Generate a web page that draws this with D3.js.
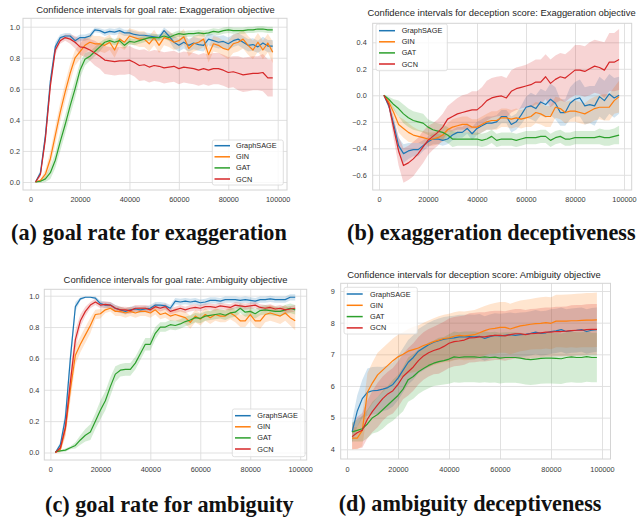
<!DOCTYPE html>
<html><head><meta charset="utf-8">
<script src="https://cdn.jsdelivr.net/npm/d3@7"></script>
<style>
body{margin:0;background:#fff}
svg{display:block}
</style>
</head><body>
<svg id="chart" width="638" height="519"></svg>
<script>
// ---------------- DATA ----------------
const steps = [
 2000,4000,6000,8000,10000,12000,14000,
 16000,18000,20000,22000,24000,26000,28000,
 30000,32000,34000,36000,38000,40000,42000,
 44000,46000,48000,50000,52000,54000,56000,
 58000,60000,62000,64000,66000,68000,70000,
 72000,74000,76000,78000,80000,82000,84000,
 86000,88000,90000,92000,94000,96000,98000];
const seriesNames = ["GraphSAGE","GIN","GAT","GCN"];
const xTicks = [0,20000,40000,60000,80000,100000];

// (a) goal rate, exaggeration
const aSage = [
 0.00,0.06,0.30,0.65,0.87,0.93,0.94,
 0.94,0.91,0.93,0.93,0.94,0.98,0.975,
 0.96,0.97,0.965,0.975,0.96,0.96,0.95,
 0.945,0.945,0.94,0.935,0.93,0.975,0.94,
 0.90,0.88,0.90,0.88,0.895,0.885,0.88,
 0.92,0.91,0.90,0.905,0.89,0.91,0.92,
 0.90,0.88,0.885,0.87,0.895,0.875,0.875];
const aSageErr = [
 0.005,0.02,0.04,0.04,0.03,0.02,0.02,
 0.02,0.02,0.02,0.02,0.02,0.015,0.015,
 0.02,0.02,0.02,0.02,0.02,0.02,0.02,
 0.02,0.02,0.02,0.02,0.02,0.02,0.03,
 0.04,0.04,0.04,0.04,0.04,0.04,0.04,
 0.04,0.04,0.04,0.04,0.04,0.04,0.04,
 0.04,0.04,0.04,0.04,0.04,0.04,0.04];
const aGin = [
 0.00,0.01,0.05,0.15,0.30,0.45,0.58,
 0.70,0.80,0.84,0.88,0.90,0.89,0.89,
 0.88,0.90,0.85,0.92,0.90,0.94,0.93,
 0.92,0.92,0.89,0.93,0.88,0.93,0.92,
 0.90,0.91,0.935,0.86,0.89,0.90,0.92,
 0.82,0.89,0.88,0.86,0.85,0.89,0.90,
 0.92,0.88,0.85,0.90,0.85,0.895,0.835];
const aGinErr = [
 0.005,0.01,0.03,0.05,0.06,0.06,0.06,
 0.06,0.05,0.05,0.05,0.05,0.05,0.05,
 0.05,0.05,0.05,0.05,0.05,0.05,0.05,
 0.05,0.05,0.05,0.05,0.05,0.05,0.05,
 0.05,0.05,0.05,0.05,0.05,0.05,0.05,
 0.05,0.05,0.05,0.05,0.06,0.06,0.06,
 0.06,0.06,0.06,0.06,0.06,0.06,0.07];
const aGat = [
 0.00,0.005,0.02,0.06,0.14,0.26,0.37,
 0.49,0.60,0.72,0.79,0.81,0.84,0.87,
 0.90,0.91,0.90,0.91,0.88,0.905,0.90,
 0.91,0.92,0.93,0.93,0.93,0.94,0.93,
 0.945,0.955,0.95,0.955,0.955,0.96,0.955,
 0.96,0.97,0.965,0.975,0.98,0.975,0.975,
 0.975,0.98,0.98,0.985,0.985,0.98,0.98];
const aGatErr = [
 0.005,0.01,0.02,0.04,0.05,0.06,0.06,
 0.06,0.06,0.05,0.04,0.03,0.03,0.03,
 0.02,0.02,0.02,0.02,0.02,0.02,0.02,
 0.02,0.02,0.02,0.02,0.02,0.02,0.02,
 0.02,0.02,0.02,0.02,0.02,0.02,0.02,
 0.02,0.02,0.02,0.02,0.02,0.02,0.02,
 0.02,0.02,0.02,0.02,0.02,0.02,0.02];
const aGcn = [
 0.00,0.05,0.28,0.62,0.85,0.91,0.93,
 0.92,0.90,0.87,0.865,0.85,0.83,0.81,
 0.785,0.78,0.775,0.78,0.78,0.785,0.77,
 0.75,0.755,0.74,0.75,0.745,0.735,0.74,
 0.745,0.73,0.74,0.735,0.73,0.72,0.73,
 0.72,0.73,0.73,0.72,0.705,0.71,0.70,
 0.69,0.695,0.70,0.70,0.705,0.67,0.67];
const aGcnErr = [
 0.005,0.02,0.04,0.04,0.03,0.02,0.02,
 0.03,0.04,0.05,0.06,0.07,0.08,0.08,
 0.09,0.09,0.09,0.09,0.09,0.09,0.09,
 0.10,0.10,0.10,0.10,0.10,0.10,0.10,
 0.10,0.10,0.10,0.10,0.10,0.10,0.10,
 0.10,0.10,0.10,0.10,0.10,0.10,0.11,
 0.11,0.11,0.11,0.11,0.12,0.12,0.12];

// (b) deception score, exaggeration
const bSage = [
 0,-0.08,-0.22,-0.38,-0.44,-0.42,-0.41,
 -0.41,-0.38,-0.35,-0.33,-0.33,-0.34,-0.33,
 -0.30,-0.28,-0.28,-0.25,-0.29,-0.25,-0.23,
 -0.21,-0.21,-0.20,-0.16,-0.16,-0.22,-0.20,
 -0.15,-0.09,-0.08,-0.10,-0.05,-0.07,-0.03,
 -0.06,-0.13,-0.13,-0.06,-0.03,-0.02,-0.08,
 -0.07,-0.08,-0.01,-0.04,0.01,-0.02,0.00];
const bSageErr = [
 0.005,0.02,0.05,0.06,0.07,0.06,0.05,
 0.05,0.04,0.04,0.04,0.04,0.04,0.04,
 0.04,0.04,0.04,0.04,0.05,0.05,0.05,
 0.05,0.05,0.05,0.05,0.05,0.06,0.06,
 0.07,0.08,0.10,0.10,0.10,0.10,0.12,
 0.12,0.10,0.10,0.12,0.13,0.14,0.14,
 0.14,0.15,0.15,0.15,0.15,0.15,0.14];
const bGin = [
 0,-0.05,-0.13,-0.22,-0.25,-0.28,-0.30,
 -0.31,-0.32,-0.33,-0.33,-0.32,-0.30,-0.26,
 -0.24,-0.23,-0.22,-0.22,-0.24,-0.24,-0.22,
 -0.20,-0.19,-0.19,-0.17,-0.17,-0.18,-0.17,
 -0.18,-0.17,-0.16,-0.13,-0.14,-0.16,-0.16,
 -0.09,-0.10,-0.13,-0.12,-0.12,-0.13,-0.14,
 -0.12,-0.10,-0.09,-0.09,-0.09,-0.04,-0.01];
const bGinErr = [
 0.005,0.02,0.04,0.06,0.07,0.07,0.06,
 0.05,0.05,0.05,0.05,0.05,0.05,0.05,
 0.06,0.06,0.06,0.06,0.06,0.06,0.06,
 0.06,0.07,0.07,0.07,0.07,0.07,0.07,
 0.07,0.07,0.08,0.08,0.08,0.08,0.08,
 0.08,0.08,0.08,0.08,0.08,0.08,0.08,
 0.09,0.09,0.09,0.10,0.10,0.10,0.12];
const bGat = [
 0,-0.03,-0.07,-0.10,-0.14,-0.17,-0.19,
 -0.20,-0.21,-0.24,-0.26,-0.27,-0.28,-0.30,
 -0.33,-0.33,-0.33,-0.33,-0.33,-0.33,-0.34,
 -0.33,-0.31,-0.34,-0.33,-0.33,-0.33,-0.34,
 -0.33,-0.32,-0.32,-0.32,-0.31,-0.31,-0.34,
 -0.32,-0.31,-0.33,-0.33,-0.32,-0.32,-0.32,
 -0.32,-0.32,-0.31,-0.32,-0.32,-0.31,-0.30];
const bGatErr = [
 0.005,0.02,0.04,0.06,0.07,0.07,0.07,
 0.07,0.07,0.06,0.06,0.06,0.06,0.06,
 0.06,0.05,0.05,0.05,0.05,0.05,0.05,
 0.05,0.05,0.05,0.05,0.05,0.05,0.05,
 0.05,0.05,0.05,0.05,0.05,0.05,0.05,
 0.05,0.05,0.05,0.05,0.05,0.05,0.05,
 0.05,0.05,0.06,0.06,0.06,0.06,0.07];
const bGcn = [
 0,-0.07,-0.25,-0.42,-0.53,-0.51,-0.48,
 -0.44,-0.39,-0.34,-0.31,-0.28,-0.24,-0.18,
 -0.16,-0.14,-0.13,-0.12,-0.11,-0.11,-0.08,
 -0.04,-0.02,-0.01,-0.005,-0.02,0.03,0.05,
 0.06,0.07,0.08,0.10,0.10,0.14,0.09,
 0.12,0.14,0.13,0.16,0.19,0.19,0.18,
 0.20,0.22,0.21,0.19,0.25,0.25,0.27];
const bGcnErr = [
 0.005,0.03,0.08,0.11,0.13,0.13,0.13,
 0.12,0.12,0.11,0.10,0.10,0.10,0.10,
 0.11,0.12,0.13,0.13,0.14,0.14,0.14,
 0.15,0.15,0.15,0.15,0.15,0.16,0.16,
 0.16,0.16,0.17,0.17,0.17,0.17,0.18,
 0.18,0.18,0.18,0.18,0.19,0.19,0.19,
 0.20,0.20,0.20,0.21,0.22,0.22,0.23];

// (c) goal rate, ambiguity
const cSage = [
 0.00,0.05,0.22,0.60,0.93,0.98,0.99,
 0.99,0.985,0.95,0.94,0.94,0.92,0.91,
 0.90,0.91,0.915,0.91,0.915,0.92,0.94,
 0.94,0.935,0.92,0.965,0.96,0.965,0.96,
 0.965,0.955,0.96,0.97,0.97,0.965,0.975,
 0.975,0.975,0.97,0.975,0.97,0.965,0.975,
 0.975,0.98,0.975,0.975,0.975,0.99,0.99];
const cSageErr = [
 0.005,0.02,0.05,0.06,0.03,0.01,0.005,
 0.005,0.01,0.02,0.02,0.02,0.02,0.02,
 0.02,0.02,0.02,0.02,0.02,0.02,0.02,
 0.02,0.02,0.02,0.02,0.02,0.02,0.02,
 0.02,0.02,0.02,0.02,0.02,0.02,0.02,
 0.02,0.02,0.02,0.02,0.02,0.02,0.02,
 0.02,0.02,0.02,0.02,0.02,0.02,0.02];
const cGin = [
 0.00,0.02,0.15,0.40,0.62,0.69,0.75,
 0.81,0.88,0.885,0.91,0.92,0.90,0.90,
 0.89,0.90,0.89,0.90,0.90,0.89,0.91,
 0.88,0.89,0.87,0.88,0.87,0.86,0.83,
 0.87,0.85,0.88,0.86,0.88,0.87,0.87,
 0.89,0.87,0.84,0.84,0.88,0.84,0.84,
 0.88,0.89,0.88,0.87,0.89,0.86,0.84];
const cGinErr = [
 0.005,0.02,0.05,0.07,0.06,0.05,0.05,
 0.05,0.03,0.03,0.02,0.02,0.03,0.03,
 0.03,0.03,0.03,0.03,0.03,0.03,0.03,
 0.03,0.03,0.03,0.04,0.04,0.04,0.04,
 0.04,0.04,0.04,0.04,0.04,0.04,0.04,
 0.04,0.04,0.04,0.04,0.04,0.04,0.05,
 0.05,0.05,0.05,0.05,0.05,0.05,0.06];
const cGat = [
 0.005,0.01,0.015,0.03,0.045,0.08,0.11,
 0.13,0.20,0.27,0.33,0.42,0.50,0.525,
 0.53,0.53,0.57,0.63,0.69,0.69,0.76,
 0.80,0.80,0.815,0.81,0.82,0.835,0.845,
 0.86,0.855,0.87,0.875,0.88,0.885,0.875,
 0.89,0.895,0.92,0.895,0.90,0.885,0.905,
 0.91,0.905,0.90,0.90,0.91,0.92,0.91];
const cGatErr = [
 0.005,0.005,0.01,0.01,0.02,0.03,0.04,
 0.05,0.05,0.06,0.06,0.06,0.05,0.04,
 0.04,0.04,0.04,0.04,0.04,0.04,0.04,
 0.03,0.03,0.03,0.03,0.03,0.03,0.03,
 0.03,0.03,0.03,0.03,0.03,0.03,0.03,
 0.03,0.03,0.03,0.03,0.03,0.03,0.03,
 0.03,0.03,0.03,0.03,0.03,0.03,0.03];
const cGcn = [
 0.00,0.03,0.16,0.45,0.72,0.84,0.90,
 0.94,0.96,0.94,0.945,0.94,0.92,0.91,
 0.91,0.905,0.92,0.92,0.92,0.91,0.93,
 0.92,0.93,0.90,0.91,0.92,0.91,0.92,
 0.925,0.92,0.93,0.93,0.925,0.935,0.93,
 0.925,0.94,0.935,0.93,0.935,0.94,0.925,
 0.92,0.925,0.915,0.92,0.91,0.915,0.92];
const cGcnErr = [
 0.005,0.02,0.05,0.07,0.06,0.04,0.03,
 0.02,0.02,0.02,0.02,0.02,0.02,0.02,
 0.02,0.02,0.02,0.02,0.02,0.02,0.02,
 0.02,0.02,0.02,0.02,0.02,0.02,0.02,
 0.02,0.02,0.02,0.02,0.02,0.02,0.02,
 0.02,0.02,0.02,0.02,0.02,0.02,0.02,
 0.02,0.02,0.02,0.02,0.02,0.02,0.02];

// (d) deception score, ambiguity
const dSage = [
 4.55,5.20,5.60,5.80,5.85,5.86,5.90,
 5.95,6.05,6.25,6.50,6.75,6.90,7.10,
 7.20,7.30,7.38,7.43,7.48,7.50,7.52,
 7.55,7.55,7.56,7.55,7.57,7.50,7.56,
 7.60,7.58,7.60,7.62,7.60,7.62,7.63,
 7.66,7.70,7.66,7.68,7.72,7.74,7.78,
 7.72,7.75,7.76,7.78,7.72,7.76,7.78];
const dSageErr = [
 0.35,0.50,0.60,0.75,0.75,0.75,0.70,
 0.70,0.70,0.70,0.70,0.70,0.70,0.70,
 0.70,0.70,0.70,0.70,0.70,0.70,0.70,
 0.70,0.70,0.70,0.70,0.70,0.70,0.70,
 0.70,0.70,0.70,0.70,0.70,0.70,0.70,
 0.70,0.70,0.70,0.70,0.70,0.70,0.70,
 0.70,0.70,0.70,0.70,0.70,0.70,0.70];
const dGin = [
 4.35,4.35,4.60,5.80,6.10,6.35,6.50,
 6.65,6.80,6.92,7.00,7.10,7.15,7.20,
 7.28,7.33,7.40,7.45,7.50,7.52,7.57,
 7.60,7.58,7.60,7.62,7.68,7.75,7.80,
 7.82,7.85,7.85,7.80,7.85,7.90,7.92,
 7.95,7.97,7.98,8.00,7.98,8.05,8.05,
 8.05,8.06,8.06,8.07,8.08,8.08,8.09];
const dGinErr = [
 0.35,0.35,0.50,0.60,0.65,0.70,0.70,
 0.70,0.70,0.70,0.70,0.70,0.72,0.72,
 0.72,0.74,0.74,0.75,0.75,0.76,0.76,
 0.76,0.77,0.78,0.78,0.78,0.78,0.78,
 0.80,0.80,0.80,0.80,0.80,0.80,0.80,
 0.80,0.81,0.82,0.82,0.82,0.83,0.83,
 0.84,0.84,0.85,0.85,0.86,0.86,0.86];
const dGat = [
 4.55,4.60,4.65,4.80,5.00,5.10,5.25,
 5.40,5.55,5.70,5.90,6.20,6.30,6.45,
 6.55,6.65,6.72,6.77,6.80,6.85,6.92,
 6.90,6.92,6.92,6.92,6.90,6.92,6.90,
 6.91,6.88,6.90,6.90,6.90,6.88,6.85,
 6.83,6.85,6.87,6.88,6.88,6.87,6.86,
 6.90,6.92,6.90,6.90,6.93,6.90,6.90];
const dGatErr = [
 0.30,0.35,0.40,0.45,0.50,0.55,0.60,
 0.60,0.65,0.65,0.70,0.70,0.70,0.70,
 0.70,0.72,0.72,0.75,0.75,0.78,0.80,
 0.80,0.80,0.80,0.80,0.80,0.80,0.80,
 0.80,0.80,0.80,0.80,0.80,0.80,0.80,
 0.80,0.80,0.80,0.80,0.80,0.80,0.80,
 0.80,0.80,0.80,0.80,0.80,0.78,0.78];
const dGcn = [
 4.40,4.52,4.60,4.95,5.20,5.40,5.60,
 5.75,5.85,6.05,6.30,6.45,6.60,6.80,
 6.95,7.05,7.12,7.17,7.25,7.35,7.40,
 7.42,7.45,7.52,7.53,7.55,7.55,7.58,
 7.60,7.60,7.58,7.62,7.65,7.65,7.62,
 7.65,7.66,7.68,7.70,7.70,7.72,7.72,
 7.73,7.75,7.76,7.76,7.78,7.79,7.79];
const dGcnErr = [
 0.40,0.50,0.55,0.60,0.65,0.70,0.70,
 0.70,0.72,0.72,0.72,0.75,0.75,0.75,
 0.75,0.75,0.75,0.78,0.78,0.78,0.78,
 0.78,0.78,0.78,0.78,0.78,0.78,0.78,
 0.78,0.78,0.78,0.78,0.78,0.78,0.78,
 0.78,0.78,0.78,0.78,0.78,0.78,0.78,
 0.78,0.80,0.80,0.80,0.80,0.80,0.80];

const titles = [
 "Confidence intervals for goal rate: Exaggeration objective",
 "Confidence intervals for deception score: Exaggeration objective",
 "Confidence intervals for goal rate: Ambiguity objective",
 "Confidence intervals for deception score: Ambiguity objective"];
const captions = [
 "(a) goal rate for exaggeration",
 "(b) exaggeration deceptiveness",
 "(c) goal rate for ambiguity",
 "(d) ambiguity deceptiveness"];
const yTicksGoal = [0,0.2,0.4,0.6,0.8,1.0];
const yTicksExDec = [-0.6,-0.4,-0.2,0.0,0.2,0.4];
const yTicksAmDec = [4,5,6,7,8,9];

// ---------------- STYLE / LAYOUT ----------------
const colors = ["#1f77b4","#ff7f0e","#2ca02c","#d62728"];
const SANS = "'Liberation Sans',Arial,sans-serif";
const SERIF = "'Liberation Serif','Times New Roman',serif";
const panels = [
 {means:[aSage,aGin,aGat,aGcn], errs:[aSageErr,aGinErr,aGatErr,aGcnErr],
  yTicks:yTicksGoal, fmt:d3.format(".1f"),
  L:23, R:287, T:18.3, B:190, xPx:[30.6,277.7], yVal:[0,1], yPx:[182,26.7], ypad:3, xpad:6.4,
  title:{cx:155.5, y:13}, cap:{x:11, y:239.5},
  leg:{x:212.3, y:140, w:71, h:45, iy:145.7, dy:11.1, l0:214.5, l1:230, tx:236}},
 {means:[bSage,bGin,bGat,bGcn], errs:[bSageErr,bGinErr,bGatErr,bGcnErr],
  yTicks:yTicksExDec, fmt:d3.format(".1f"),
  L:372.7, R:631.7, T:23.3, B:190, xPx:[379,624], yVal:[0,0.4], yPx:[95.3,42.3], ypad:6, xpad:6.7,
  title:{cx:501.5, y:16.3}, cap:{x:347, y:239.5},
  leg:{x:376, y:24, w:71.3, h:46.7, iy:30.7, dy:11.1, l0:379, l1:395, tx:401.7}},
 {means:[cSage,cGin,cGat,cGcn], errs:[cSageErr,cGinErr,cGatErr,cGcnErr],
  yTicks:yTicksGoal, fmt:d3.format(".1f"),
  L:44.3, R:306.7, T:289.3, B:460, xPx:[50.4,300.2], yVal:[0,1], yPx:[452.5,295.7], ypad:5, xpad:6.4,
  title:{cx:175.5, y:283.3}, cap:{x:45, y:511.5},
  leg:{x:232.3, y:409, w:72.7, h:47.7, iy:415.7, dy:11.1, l0:235, l1:250.7, tx:257.3}},
 {means:[dSage,dGin,dGat,dGcn], errs:[dSageErr,dGinErr,dGatErr,dGcnErr],
  yTicks:yTicksAmDec, fmt:d3.format("d"),
  L:340.7, R:610.5, T:283.3, B:459, xPx:[347,602], yVal:[4,9], yPx:[449.3,291], ypad:6, xpad:7.4,
  title:{cx:474, y:278.2}, cap:{x:338.7, y:510.8},
  leg:{x:344, y:287.3, w:73.3, h:46.7, iy:294, dy:11.3, l0:346.7, l1:362.7, tx:370}}
];
const tickFont = 7.3;
const textColor = "#3a3a3a";
const gridColor = "#dedede";

const svg = d3.select("#chart");

// title font size fitted to the reference title width
const probe = svg.append("text").style("font-family",SANS).style("font-size","10px").text(titles[0]);
const titleSize = 10 * 239 / probe.node().getComputedTextLength();
probe.remove();

panels.forEach((p, pi) => {
  const x = d3.scaleLinear().domain([0,100000]).range(p.xPx);
  const y = d3.scaleLinear().domain(p.yVal).range(p.yPx);
  const g = svg.append("g");

  g.append("rect").attr("x",p.L).attr("y",p.T).attr("width",p.R-p.L).attr("height",p.B-p.T).attr("fill","#fff");

  const ya = g.append("g").attr("transform",`translate(${p.L},0)`)
    .call(d3.axisLeft(y).tickValues(p.yTicks).tickFormat(p.fmt).tickSize(-(p.R-p.L)).tickPadding(p.ypad));
  const xa = g.append("g").attr("transform",`translate(0,${p.B})`)
    .call(d3.axisBottom(x).tickValues(xTicks).tickFormat(d3.format("d")).tickSize(-(p.B-p.T)).tickPadding(p.xpad));
  [ya,xa].forEach(a => {
    a.select(".domain").remove();
    a.selectAll("line").attr("stroke",gridColor).attr("stroke-width",0.9);
    a.selectAll("text").style("font-size",tickFont+"px").style("font-family",SANS).attr("fill",textColor);
  });

  const clipId = "clip"+pi;
  g.append("clipPath").attr("id",clipId).append("rect")
    .attr("x",p.L).attr("y",p.T).attr("width",p.R-p.L).attr("height",p.B-p.T);
  const plot = g.append("g").attr("clip-path",`url(#${clipId})`);

  p.means.forEach((m, si) => {
    const e = p.errs[si];
    const area = d3.area()
      .x((d,i) => x(steps[i]))
      .y0((d,i) => y(m[i] - e[i]))
      .y1((d,i) => y(m[i] + e[i]));
    plot.append("path").datum(m).attr("d",area)
      .attr("fill",colors[si]).attr("fill-opacity",0.2).attr("stroke","none");
  });
  p.means.forEach((m, si) => {
    const line = d3.line().x((d,i) => x(steps[i])).y(d => y(d));
    plot.append("path").datum(m).attr("d",line)
      .attr("fill","none").attr("stroke",colors[si]).attr("stroke-width",1.2)
      .attr("stroke-linejoin","round");
  });

  g.append("rect").attr("x",p.L).attr("y",p.T).attr("width",p.R-p.L).attr("height",p.B-p.T)
    .attr("fill","none").attr("stroke","#d4d4d4").attr("stroke-width",1);

  g.append("text").attr("x",p.title.cx).attr("y",p.title.y).attr("text-anchor","middle")
    .style("font-family",SANS).style("font-size",titleSize+"px").attr("fill","#262626").text(titles[pi]);

  const lg = g.append("g");
  lg.append("rect").attr("x",p.leg.x).attr("y",p.leg.y).attr("width",p.leg.w).attr("height",p.leg.h)
    .attr("rx",2).attr("fill","#fff").attr("fill-opacity",0.8).attr("stroke","#d8d8d8").attr("stroke-width",0.8);
  seriesNames.forEach((n, si) => {
    const yy = p.leg.iy + si*p.leg.dy;
    lg.append("line").attr("x1",p.leg.l0).attr("x2",p.leg.l1).attr("y1",yy).attr("y2",yy)
      .attr("stroke",colors[si]).attr("stroke-width",1.5);
    lg.append("text").attr("x",p.leg.tx).attr("y",yy).attr("dy","0.35em")
      .style("font-family",SANS).style("font-size",tickFont+"px").attr("fill","#262626").text(n);
  });
});

// captions (serif bold), size fitted to the reference width of caption (a)
const capProbe = svg.append("text").style("font-family",SERIF).style("font-weight","bold")
  .style("font-size","20px").text(captions[0]);
const capSize = 20 * 276 / capProbe.node().getComputedTextLength();
capProbe.remove();
panels.forEach((p, pi) => {
  svg.append("text").attr("x",p.cap.x).attr("y",p.cap.y)
    .style("font-family",SERIF).style("font-weight","bold").style("font-size",capSize+"px")
    .attr("fill","#111").text(captions[pi]);
});
</script>
</body></html>
